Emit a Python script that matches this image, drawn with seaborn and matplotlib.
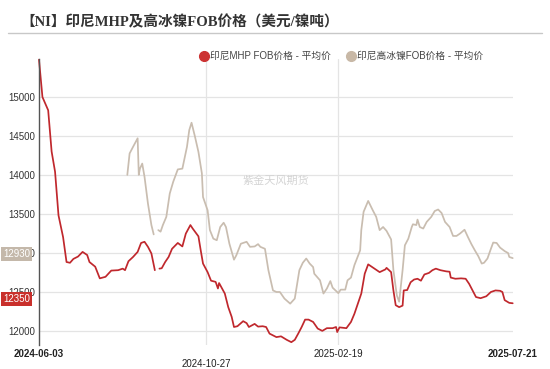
import matplotlib
matplotlib.use("Agg")
import matplotlib.pyplot as plt
from matplotlib.lines import Line2D
from matplotlib.transforms import blended_transform_factory
import numpy as np
import pandas as pd
import seaborn as sns

nan = np.nan

title = "【NI】印尼MHP及高冰镍FOB价格（美元/镍吨）"
series_names = ["印尼MHP FOB价格 - 平均价", "印尼高冰镍FOB价格 - 平均价"]
watermark = "紫金天风期货"

mhp_dates = [
    "2024-06-03", "2024-06-06", "2024-06-11", "2024-06-14", "2024-06-17", "2024-06-20",
    "2024-06-24", "2024-06-27", "2024-06-30", "2024-07-03", "2024-07-07", "2024-07-11",
    "2024-07-15", "2024-07-17", "2024-07-22", "2024-07-26", "2024-07-31", "2024-08-05",
    "2024-08-11", "2024-08-15", "2024-08-17", "2024-08-20", "2024-08-24", "2024-08-28",
    "2024-08-31", "2024-09-03", "2024-09-06", "2024-09-09", "2024-09-12", "2024-09-14",
    "2024-09-16", "2024-09-18", "2024-09-21", "2024-09-24", "2024-09-27", "2024-09-30",
    "2024-10-02", "2024-10-06", "2024-10-09", "2024-10-13", "2024-10-15", "2024-10-20",
    "2024-10-22", "2024-10-24", "2024-10-28", "2024-10-31", "2024-11-04", "2024-11-06",
    "2024-11-07", "2024-11-12", "2024-11-15", "2024-11-18", "2024-11-20", "2024-11-23",
    "2024-11-28", "2024-12-01", "2024-12-03", "2024-12-08", "2024-12-11", "2024-12-15",
    "2024-12-18", "2024-12-21", "2024-12-27", "2024-12-31", "2025-01-05", "2025-01-09",
    "2025-01-12", "2025-01-15", "2025-01-18", "2025-01-21", "2025-01-24", "2025-01-28",
    "2025-02-01", "2025-02-05", "2025-02-09", "2025-02-14", "2025-02-17", "2025-02-18",
    "2025-02-20", "2025-02-26", "2025-03-02", "2025-03-05", "2025-03-08", "2025-03-11",
    "2025-03-14", "2025-03-17", "2025-03-21", "2025-03-27", "2025-04-01", "2025-04-02",
    "2025-04-06", "2025-04-08", "2025-04-10", "2025-04-13", "2025-04-16", "2025-04-17",
    "2025-04-20", "2025-04-23", "2025-04-26", "2025-04-29", "2025-05-02", "2025-05-05",
    "2025-05-09", "2025-05-12", "2025-05-15", "2025-05-19", "2025-05-24", "2025-05-27",
    "2025-05-28", "2025-06-01", "2025-06-06", "2025-06-10", "2025-06-13", "2025-06-16",
    "2025-06-19", "2025-06-23", "2025-06-28", "2025-07-02", "2025-07-06", "2025-07-10",
    "2025-07-12", "2025-07-14", "2025-07-18", "2025-07-21",
]
mhp_values = [
    15480, 15000, 14830, 14300, 14040, 13480,
    13200, 12880, 12870, 12920, 12950, 13010,
    12970, 12880, 12820, 12670, 12690, 12770,
    12775, 12795, 12775, 12890, 12945, 13010,
    13125, 13140, 13075, 12990, 12775, nan,
    12795, 12800, 12880, 12945, 13050, 13095,
    13125, 13080, 13245, 13355, 13310, 13210,
    13030, 12860, 12750, 12640, 12625, 12540,
    12610, 12475, 12300, 12175, 12045, 12055,
    12120, 12095, 12045, 12085, 12050, 12055,
    12045, 11960, 11915, 11925, 11880, 11850,
    11880, 11960, 12045, 12140, 12140, 12110,
    12025, 11995, 12030, 12030, 12045, 11980,
    12040, 12030, 12110, 12215, 12345, 12475,
    12730, 12850, 12810, 12750, 12785, 12805,
    12750, 12515, 12325, 12300, 12320, 12515,
    12520, 12620, 12655, 12665, 12640, 12720,
    12740, 12775, 12795, 12775, 12760, 12755,
    12680, 12665, 12670, 12665, 12600, 12515,
    12430, 12415, 12440, 12495, 12515, 12510,
    12495, 12390, 12355, 12350,
]

nickel_dates = [
    "2024-08-19", "2024-08-21", "2024-08-24", "2024-08-28", "2024-08-29", "2024-08-30",
    "2024-09-01", "2024-09-03", "2024-09-06", "2024-09-09", "2024-09-11", "2024-09-13",
    "2024-09-15", "2024-09-17", "2024-09-19", "2024-09-22", "2024-09-25", "2024-09-28",
    "2024-10-02", "2024-10-06", "2024-10-10", "2024-10-12", "2024-10-14", "2024-10-17",
    "2024-10-20", "2024-10-23", "2024-10-24", "2024-10-28", "2024-10-30", "2024-11-02",
    "2024-11-05", "2024-11-08", "2024-11-11", "2024-11-13", "2024-11-16", "2024-11-20",
    "2024-11-22", "2024-11-26", "2024-12-01", "2024-12-04", "2024-12-08", "2024-12-11",
    "2024-12-13", "2024-12-17", "2024-12-20", "2024-12-24", "2024-12-27", "2024-12-30",
    "2025-01-03", "2025-01-08", "2025-01-12", "2025-01-16", "2025-01-19", "2025-01-22",
    "2025-01-25", "2025-01-28", "2025-01-29", "2025-02-03", "2025-02-06", "2025-02-09",
    "2025-02-12", "2025-02-14", "2025-02-19", "2025-02-21", "2025-02-25", "2025-02-27",
    "2025-03-02", "2025-03-05", "2025-03-10", "2025-03-11", "2025-03-13", "2025-03-17",
    "2025-03-21", "2025-03-24", "2025-03-27", "2025-03-30", "2025-04-02", "2025-04-06",
    "2025-04-08", "2025-04-11", "2025-04-13", "2025-04-16", "2025-04-18", "2025-04-21",
    "2025-04-24", "2025-04-25", "2025-04-28", "2025-04-29", "2025-05-01", "2025-05-04",
    "2025-05-07", "2025-05-11", "2025-05-14", "2025-05-17", "2025-05-20", "2025-05-23",
    "2025-05-27", "2025-05-30", "2025-06-02", "2025-06-05", "2025-06-09", "2025-06-12",
    "2025-06-15", "2025-06-18", "2025-06-21", "2025-06-24", "2025-06-26", "2025-06-29",
    "2025-07-02", "2025-07-04", "2025-07-07", "2025-07-10", "2025-07-14", "2025-07-17",
    "2025-07-18", "2025-07-21",
]
nickel_values = [
    14000, 14275, 14360, 14470, 14000, 14080,
    14145, 13975, 13630, 13355, 13235, nan,
    13290, 13270, 13355, 13460, 13760, 13910,
    14070, 14080, 14360, 14575, 14670, 14490,
    14295, 14020, 13715, 13545, 13290, 13180,
    13160, 13330, 13385, 13330, 13115, 12910,
    12965, 13115, 13140, 13075, 13080, 13110,
    13075, 13050, 12775, 12515, 12495, 12495,
    12410, 12345, 12410, 12775, 12870, 12925,
    12860, 12815, 12730, 12645, 12475, 12540,
    12635, 12550, 12480, 12525, 12525, 12645,
    12680, 12840, 13030, 13290, 13525, 13665,
    13545, 13460, 13290, 13330, 13280, 13170,
    12775, 12450, 12370, 12775, 13095, 13180,
    13330, 13365, 13355, 13425, 13330, 13310,
    13395, 13460, 13535, 13555, 13510, 13395,
    13330, 13215, 13215, 13245, 13295, 13200,
    13110, 13030, 12955, 12860, 12870, 12925,
    13050, 13130, 13125, 13065, 13020, 12995,
    12945, 12930,
]

tick_dates = ["2024-06-03", "2024-10-27", "2025-02-19", "2025-07-21"]
y_ticks = [12000, 12500, 13000, 13500, 14000, 14500, 15000]

line_colors = ["#c0282d", "#c9bdb0"]
marker_colors = ["#cc3333", "#c8b8a6"]
label_colors = ["#c9302c", "#c4b8aa"]


def to_frame(dates, values, name):
    d = pd.DataFrame({"date": pd.to_datetime(dates), "value": values})
    d["seg"] = d["value"].isna().cumsum()
    d["series"] = name
    return d.dropna()


df = pd.concat([
    to_frame(mhp_dates, mhp_values, series_names[0]),
    to_frame(nickel_dates, nickel_values, series_names[1]),
], ignore_index=True)

sns.set_theme(style="white")
plt.rcParams["font.family"] = ["Liberation Sans", "Noto Sans CJK SC", "DejaVu Sans"]

W, H = 550, 369
fig = plt.figure(figsize=(W / 100, H / 100), dpi=100)
fig.patch.set_facecolor("white")

left, right, top, bottom = 39, 512.7, 58.9, 344.9
ax = fig.add_axes([left / W, 1 - bottom / H, (right - left) / W, (bottom - top) / H])
ax.set_facecolor("white")

sns.lineplot(data=df, x="date", y="value", hue="series", units="seg",
             estimator=None, sort=False, palette=dict(zip(series_names, line_colors)),
             linewidth=1.25, legend=False, ax=ax)
for ln in ax.lines:
    ln.set_clip_on(False)
    ln.set_solid_joinstyle("round")

td = pd.to_datetime(tick_dates)
ax.set_xlim(td[0], td[-1])
ax.set_ylim(11815, 15490)

# grid
ax.set_yticks(y_ticks)
ax.set_yticklabels([str(v) for v in y_ticks])
ax.grid(False)
for v in y_ticks:
    ax.axhline(v, color="#e4e4e4", linewidth=0.9, zorder=0)
for d in td[1:-1]:
    ax.axvline(d, color="#e4e4e4", linewidth=0.9, zorder=0)

# x ticks: staggered labels
ax.set_xticks([td[0], td[2], td[3]])
ax.set_xticklabels([tick_dates[0], tick_dates[2], tick_dates[3]])
ax.set_xticks([td[1]], minor=True)
ax.set_xticklabels([tick_dates[1]], minor=True)
ax.tick_params(axis="x", which="major", length=0, pad=3.2, labelsize=7, labelcolor="#222222")
ax.tick_params(axis="x", which="minor", length=0, pad=10.2, labelsize=7, labelcolor="#222222")
ax.tick_params(axis="y", length=0, pad=3, labelsize=7, labelcolor="#333333")
lbls = ax.get_xticklabels()
lbls[0].set_fontweight("bold")
lbls[-1].set_fontweight("bold")

for s in ["top", "right", "bottom"]:
    ax.spines[s].set_visible(False)
ax.spines["left"].set_color("#555555")
ax.spines["left"].set_linewidth(1.0)
ax.set_xlabel("")
ax.set_ylabel("")

# last-value labels
trans = blended_transform_factory(ax.transAxes, ax.transData)
last_vals = [mhp_values[-1], nickel_values[-1]]
for val, col in zip(last_vals, label_colors):
    ax.annotate(str(val), xy=(-0.0185, val), xycoords=trans,
                xytext=(0, 3.2), textcoords="offset points",
                ha="right", va="center", fontsize=7, color="white",
                bbox=dict(boxstyle="square,pad=0.2", fc=col, ec="none"),
                annotation_clip=False, zorder=10)

# title and header rule
fig.text(20 / W, 1 - 21.7 / H, title, ha="left", va="center", fontsize=10.5,
         fontweight="bold", color="#333333",
         family=["Liberation Serif", "Noto Sans CJK SC"])
fig.add_artist(Line2D([8 / W, 542 / W], [1 - 33.3 / H, 1 - 33.3 / H],
                      color="#c8c8c8", linewidth=1.0))

# legend
handles = [Line2D([], [], marker="o", linestyle="none", markersize=7,
                  markerfacecolor=c, markeredgecolor=c) for c in marker_colors]
fig.legend(handles, series_names, loc="center", bbox_to_anchor=(341 / W, 1 - 56 / H),
           ncol=2, frameon=False, fontsize=7, handletextpad=0.1, columnspacing=1.6,
           labelcolor="#444444", borderaxespad=0, handlelength=1.0)

# watermark
fig.text(276 / W, 1 - 181 / H, watermark, ha="center", va="center",
         fontsize=8, color="#d4d4d4")

fig.savefig("out.png", dpi=100, facecolor="white")
